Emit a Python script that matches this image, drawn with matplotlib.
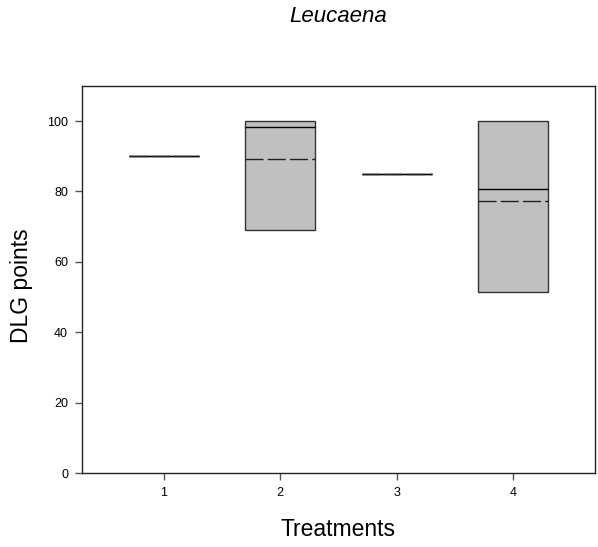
import matplotlib.pyplot as plt

plt.rcParams['font.family'] = ['Liberation Sans', 'DejaVu Sans']

# box statistics
treatments = [1, 2, 3, 4]
q1 = [90.0, 69.0, 85.0, 51.5]
q3 = [90.0, 100.0, 85.0, 100.0]
medians = [90.0, 98.4, 85.0, 80.6]
means = [90.0, 89.1, 84.9, 77.4]

stats = []
for i in range(len(treatments)):
    stats.append({'med': medians[i], 'q1': q1[i], 'q3': q3[i],
                  'whislo': q1[i], 'whishi': q3[i], 'mean': means[i],
                  'fliers': []})

fig = plt.figure(figsize=(5.98, 5.47), dpi=100)
ax = fig.add_axes([0.137, 0.135, 0.858, 0.708])

edge = '#333333'
ax.bxp(stats, positions=treatments, widths=0.6, patch_artist=True,
       showmeans=True, meanline=True, showcaps=False, showfliers=False,
       boxprops=dict(facecolor='#c0c0c0', edgecolor=edge, linewidth=1.0),
       medianprops=dict(color='black', linewidth=1.0),
       meanprops=dict(color='#222222', linewidth=1.0, linestyle=(0, (13, 3))),
       whiskerprops=dict(color=edge, linewidth=0))

ax.set_xlim(0.3, 4.7)
ax.set_ylim(0, 110)
ax.set_yticks([0, 20, 40, 60, 80, 100])
ax.set_xticks(treatments)
ax.set_xticklabels([str(t) for t in treatments])
ax.tick_params(axis='both', labelsize=9, length=5, width=1, color='#555555', pad=5)
for s in ax.spines.values():
    s.set_linewidth(1.0)
    s.set_color('#222222')

ax.set_xlabel('Treatments', fontsize=16.5, labelpad=14)
ax.set_ylabel('DLG points', fontsize=16.5)
ax.yaxis.set_label_coords(-0.096, 0.483)
fig.text(0.566, 0.969, 'Leucaena', fontsize=16, style='italic', ha='center', va='center')

fig.savefig('out.png', dpi=100)
